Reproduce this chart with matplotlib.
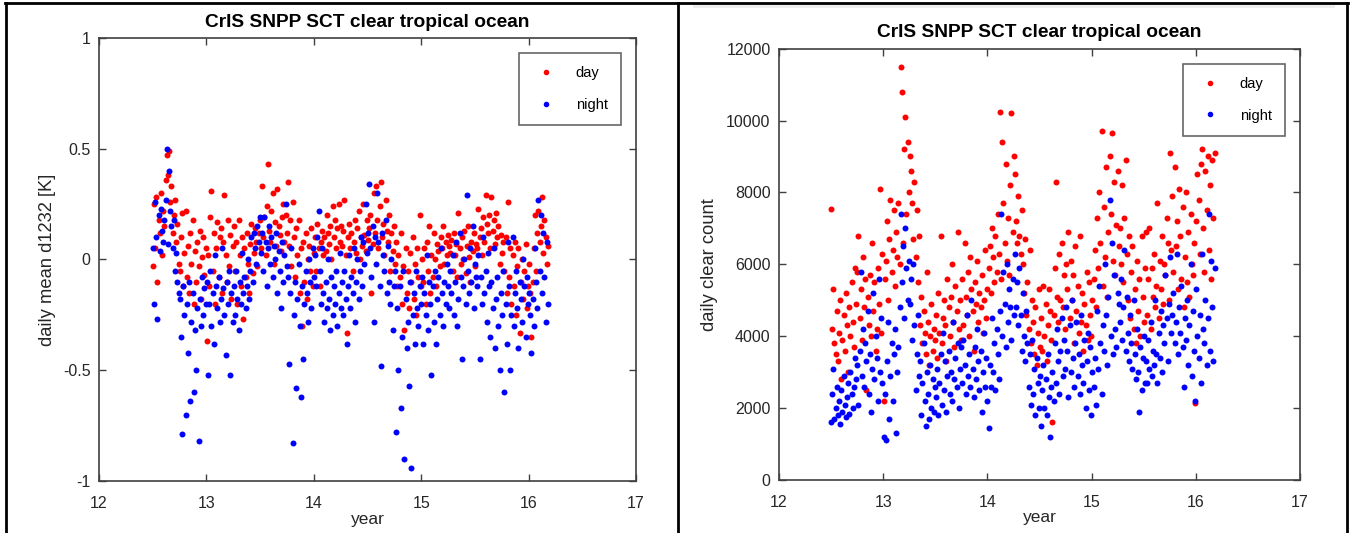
import matplotlib
matplotlib.use('Agg')
import matplotlib.pyplot as plt
import numpy as np

plt.rcParams['font.family'] = ['Liberation Sans', 'DejaVu Sans']
plt.rcParams['axes.unicode_minus'] = False

# one value every 4 days starting mid 2012 (year axis shown as 12..17)
t0 = 12.5
step = 4 / 365.25

# daily mean d1232 [K]
d_day = [
    -0.03, 0.25, 0.05, 0.28, -0.10, 0.18, 0.12, 0.30, 0.02, 0.22, 0.15, 0.36, 0.47, 0.38, 0.49, 0.26, 0.33, 0.12, 0.20, 0.27, 0.08, 0.16, -0.02,
    -0.05, 0.10, 0.21, -0.12, 0.03, 0.22, -0.08, 0.06, -0.15, 0.12, -0.02, 0.18, -0.20, 0.04, -0.10, 0.08, -0.03, 0.13, -0.18, 0.01, 0.10, -0.07, 0.05,
    -0.37, 0.02, -0.12, 0.19, 0.31, -0.05, 0.12, -0.20, 0.05, 0.17, -0.08, 0.10, 0.14, -0.15, 0.08, 0.29, 0.02, -0.10, 0.18, -0.03, 0.11, -0.18, 0.06,
    0.15, -0.05, 0.08, -0.20, 0.18, 0.02, -0.12, 0.10, -0.27, 0.05, -0.08, 0.12, -0.02, -0.15, 0.07, 0.16, -0.06, 0.03, 0.14, 0.08, -0.03, 0.12, 0.18,
    0.05, 0.33, 0.10, 0.19, 0.02, 0.24, 0.43, 0.13, 0.08, 0.22, 0.30, -0.02, 0.17, 0.06, 0.32, 0.15, 0.11, 0.04, 0.19, 0.25, 0.08, 0.20, 0.12,
    0.35, 0.06, 0.18, -0.03, 0.26, 0.10, -0.08, 0.14, 0.02, 0.18, -0.15, 0.05, -0.30, 0.08, -0.10, 0.12, -0.18, 0.00, 0.06, -0.05, 0.14, -0.12, 0.03,
    0.10, -0.05, 0.16, 0.05, -0.12, 0.08, 0.13, 0.02, 0.10, 0.04, 0.20, 0.12, 0.07, 0.15, 0.00, 0.24, 0.10, 0.18, 0.05, 0.14, 0.25, 0.08, 0.15,
    0.06, 0.13, 0.27, 0.02, -0.33, 0.10, 0.16, 0.05, 0.12, -0.05, 0.08, 0.18, 0.03, 0.14, 0.22, 0.00, 0.10, 0.06, 0.25, 0.11, 0.04, 0.18, 0.09,
    0.14, 0.20, -0.15, 0.07, 0.30, 0.12, 0.33, 0.18, 0.05, 0.24, 0.35, 0.10, 0.16, 0.02, 0.27, 0.13, 0.08, 0.20, -0.05, 0.12, 0.04, 0.15, -0.02,
    0.08, -0.12, 0.02, -0.08, 0.12, -0.20, -0.03, -0.32, 0.05, -0.15, -0.05, -0.22, 0.03, -0.10, 0.10, -0.18, -0.02, -0.25, 0.05, -0.08, 0.20, -0.12, 0.00,
    -0.10, 0.05, -0.20, 0.08, -0.05, 0.15, -0.15, 0.02, -0.08, 0.12, 0.00, -0.12, 0.07, 0.04, -0.03, 0.10, 0.05, 0.15, -0.02, 0.08, 0.02, 0.11, 0.06,
    0.03, 0.09, -0.05, 0.12, 0.02, 0.07, -0.08, 0.21, 0.05, -0.02, 0.10, 0.00, 0.13, -0.06, 0.06, 0.15, 0.01, -0.10, 0.08, 0.04, 0.12, -0.03, 0.07,
    0.05, 0.23, 0.10, 0.14, 0.02, 0.19, 0.08, 0.29, 0.16, 0.12, 0.20, 0.05, 0.28, 0.13, 0.18, 0.07, 0.21, 0.10, 0.15, -0.02, 0.11, 0.03, 0.08,
    -0.05, 0.10, -0.15, 0.26, -0.08, 0.05, -0.20, 0.02, -0.12, 0.08, -0.25, -0.03, 0.05, -0.33, -0.10, 0.00, -0.18, -0.05, 0.07, -0.22, -0.12, -0.02, -0.15,
    -0.35, -0.10, 0.05, 0.20, -0.05, 0.12, 0.22, 0.08, 0.15, 0.28, 0.03, 0.18, 0.10, -0.02, 0.06,
]
d_night = [
    0.05, -0.20, 0.26, 0.10, -0.27, 0.20, 0.04, 0.23, 0.13, 0.08, 0.18, 0.27, 0.50, 0.07, 0.40, 0.22, 0.15, 0.05, 0.18, -0.05, 0.03, -0.10, -0.15,
    -0.18, -0.35, -0.79, -0.12, -0.25, -0.70, -0.20, -0.42, -0.10, -0.64, -0.28, -0.15, -0.60, -0.32, -0.50, -0.22, -0.82, -0.18, -0.30, -0.08, -0.25, -0.13, -0.20,
    -0.10, -0.52, -0.20, -0.05, -0.30, -0.15, -0.38, 0.02, -0.12, -0.22, -0.08, -0.28, -0.18, 0.05, -0.13, -0.25, -0.43, -0.10, -0.20, -0.05, -0.52, -0.15, -0.28,
    -0.12, -0.25, -0.05, -0.18, -0.32, -0.10, -0.20, 0.03, -0.15, -0.08, -0.22, -0.12, 0.00, -0.18, -0.05, 0.10, -0.10, 0.12, 0.05, -0.02, 0.15, 0.08, 0.19,
    0.03, 0.12, -0.05, 0.19, 0.08, -0.12, 0.05, 0.15, -0.02, 0.10, -0.08, 0.06, 0.00, 0.12, -0.15, 0.04, -0.05, -0.22, 0.08, -0.10, 0.02, 0.25, -0.03,
    -0.08, -0.47, -0.15, 0.05, -0.83, -0.25, -0.10, -0.58, -0.18, -0.02, -0.30, -0.62, -0.12, -0.45, -0.20, -0.05, -0.15, -0.28, 0.00, -0.10, -0.22, 0.05, -0.08,
    0.02, -0.12, 0.10, 0.22, -0.05, -0.20, 0.05, -0.15, -0.28, -0.10, -0.22, 0.00, -0.18, -0.32, -0.08, -0.25, -0.12, -0.20, -0.05, -0.30, -0.15, 0.03, -0.22,
    -0.10, -0.25, -0.05, -0.18, -0.38, -0.12, 0.02, -0.22, -0.08, -0.15, 0.05, -0.28, -0.10, 0.00, -0.18, -0.05, 0.10, -0.12, 0.08, -0.02, 0.25, 0.03, 0.12,
    0.34, 0.05, -0.08, 0.15, -0.28, 0.10, -0.02, 0.30, 0.08, -0.12, -0.48, 0.12, 0.02, -0.05, 0.18, -0.15, 0.06, -0.10, -0.20, 0.00, -0.32, -0.12, -0.05,
    -0.78, -0.22, -0.50, -0.12, -0.67, -0.35, -0.05, -0.90, -0.18, -0.40, -0.28, -0.57, -0.10, -0.94, -0.25, -0.15, -0.38, -0.05, -0.22, -0.30, -0.12, -0.20, -0.08,
    -0.38, -0.15, -0.25, 0.02, -0.32, -0.10, -0.20, -0.52, -0.12, -0.28, -0.05, -0.38, -0.18, -0.08, -0.25, 0.05, -0.15, -0.30, -0.10, -0.20, -0.02, -0.12, -0.22,
    -0.05, -0.15, 0.02, -0.25, -0.10, 0.08, -0.30, -0.18, 0.12, -0.08, -0.45, -0.12, 0.00, -0.20, 0.29, -0.05, -0.15, 0.05, -0.10, 0.15, -0.22, -0.02, -0.08,
    -0.12, 0.02, -0.45, -0.08, -0.20, 0.10, -0.15, -0.05, -0.28, 0.03, -0.12, -0.35, -0.10, -0.22, 0.05, -0.40, -0.18, -0.08, -0.30, -0.50, -0.15, -0.25, -0.05,
    -0.60, -0.20, -0.38, 0.08, -0.12, -0.50, -0.25, 0.10, -0.30, -0.15, -0.05, -0.22, -0.40, -0.10, -0.18, -0.28, 0.00, -0.12, -0.35, -0.08, -0.20, -0.15, -0.25,
    -0.42, -0.18, -0.30, 0.05, -0.10, -0.22, 0.27, -0.05, 0.20, -0.15, 0.12, -0.08, -0.28, 0.08, -0.20,
]

# daily clear count
c_day = [
    7550, 4200, 5300, 3800, 3500, 4700, 3300, 4100, 5000, 2800, 3900, 4600, 3600, 5200, 4300, 3000, 4800, 4000, 5500, 4400, 3700, 5900, 4900,
    5800, 6800, 4500, 5300, 3900, 6200, 4800, 5600, 2500, 5100, 4300, 5700, 4000, 6600, 4700, 5500, 3600, 4200, 5900, 4900, 8100, 4100, 6300,
    2200, 5600, 6100, 7200, 5000, 6700, 7800, 5800, 6400, 7500, 5400, 6900, 6200, 7700, 6000, 11500, 10800, 6600, 9200, 10100, 7400, 9400, 8000,
    9000, 8600, 7700, 6700, 8300, 6200, 7500, 5500, 6800, 4300, 5100, 3800, 4700, 4100, 3500, 5800, 4400, 3200, 4000, 4900, 3600, 4200, 3900,
    4600, 3400, 5200, 4100, 6800, 3800, 4500, 5000, 4300, 3300, 5600, 4800, 4000, 5100, 6000, 4400, 3700, 5400, 4700, 6900, 4200, 5000, 3900,
    5600, 4300, 6600, 5100, 4600, 5800, 4000, 6200, 5300, 4700, 3600, 5500, 4900, 6100, 4400, 5200, 4800, 5700, 4100, 5000, 6400, 4500, 5300,
    5900, 6500, 5200, 7000, 6200, 5500, 6800, 5800, 7400, 6300, 10250, 5600, 9400, 7700, 6600, 8800, 6100, 7300, 5700, 8200, 10200, 6900, 9000,
    8500, 7200, 6600, 7900, 6800, 6300, 7500, 6000, 5200, 6700, 4600, 5500, 4200, 6400, 3800, 5000, 4400, 3500, 4800, 3200, 4100, 5300, 3700,
    4500, 3600, 5400, 4000, 4900, 3300, 4300, 5300, 4700, 3900, 1600, 4600, 5900, 8300, 5100, 4400, 6300, 5000, 6600, 4800, 5700, 4200, 6000,
    5300, 6900, 4500, 6100, 5000, 5700, 3800, 6500, 4700, 5400, 4100, 6800, 4400, 5200, 3600, 4900, 4300, 5800, 3900, 5500, 4600, 4000, 5000,
    5600, 6400, 4800, 7300, 5900, 8000, 6600, 9700, 5400, 7600, 6200, 8700, 5100, 6900, 9000, 7400, 9650, 6100, 8300, 5700, 7100, 8600, 6500,
    7000, 6000, 8200, 5500, 7300, 8900, 6300, 5000, 6800, 4500, 5800, 6500, 4200, 5300, 3800, 6100, 4700, 5600, 4000, 6800, 5100, 4400, 5900,
    6900, 4600, 5600, 7000, 4200, 5900, 5100, 6300, 4800, 5400, 7700, 4500, 6100, 5300, 6800, 4900, 6000, 5700, 7300, 6600, 5000, 9100, 6400,
    7900, 5800, 8700, 6500, 7200, 5300, 8100, 6800, 5600, 7600, 4800, 6200, 8000, 5500, 6900, 5100, 7400, 6000, 5700, 6600, 2150, 7200, 8500,
    7800, 6300, 8800, 9200, 7000, 5800, 8600, 7500, 9000, 6400, 8200, 5600, 8900, 7300, 9100,
]
c_night = [
    1600, 2400, 3100, 1700, 2000, 2600, 1800, 2200, 1550, 2500, 1900, 2900, 2100, 1750, 2300, 2700, 1850, 3000, 2400, 2000, 2600, 3400, 2800,
    3200, 2100, 3600, 5800, 2900, 4200, 2600, 3800, 3300, 4700, 2400, 3500, 1900, 3100, 5200, 2800, 4000, 3400, 2200, 5600, 3000, 4500, 2700,
    1200, 2400, 1100, 3300, 4400, 1700, 2900, 3800, 2200, 3500, 4200, 1300, 3000, 3700, 4800, 7400, 5500, 6500, 4500, 7000, 5900, 5000, 6100,
    4900, 5600, 3900, 6000, 4300, 2500, 3500, 4600, 2900, 3300, 1800, 2700, 3800, 2200, 1500, 3000, 2400, 1700, 3200, 2000, 2800, 1900, 2600,
    2300, 3100, 1800, 2700, 3500, 2100, 4100, 2500, 3300, 1900, 2900, 3600, 2400, 3000, 2200, 4400, 2800, 3400, 2600, 3800, 2000, 3100, 3700,
    2700, 3900, 3200, 2400, 4600, 2900, 3500, 2600, 5000, 3100, 2300, 3700, 2800, 4200, 3300, 2500, 3600, 1900, 3000, 4100, 2600, 3400, 2200,
    1450, 3200, 2600, 4500, 3000, 3800, 2500, 4200, 3500, 2800, 4700, 7400, 4000, 5800, 4900, 3700, 6000, 4400, 5300, 4800, 3900, 5600, 4600,
    6300, 4800, 5500, 4300, 5900, 4600, 3600, 5200, 4000, 3300, 4700, 3800, 2600, 3500, 2100, 3900, 2400, 3100, 1800, 3400, 2700, 2000, 2900,
    1500, 2500, 3200, 2000, 2800, 1800, 3500, 2300, 1200, 2600, 3000, 2200, 3800, 2700, 4200, 3300, 2400, 3600, 4500, 2900, 3900, 3100, 4800,
    3600, 2300, 4300, 3000, 5000, 3400, 2600, 3800, 4400, 2900, 3500, 2400, 4600, 3200, 2700, 3900, 2000, 3300, 4100, 2500, 3700, 1800, 3000,
    2600, 3400, 2100, 4700, 3100, 5400, 3800, 2400, 4300, 3600, 6000, 4600, 3200, 5100, 7800, 4000, 6600, 3500, 5700, 4200, 3700, 5200, 4900,
    4400, 5600, 3900, 4800, 6400, 3600, 5100, 4100, 3300, 4600, 3800, 3100, 5000, 3500, 2800, 4200, 3000, 1900, 3700, 2500, 3400, 4000, 2700,
    3300, 2700, 3900, 3100, 4400, 2900, 3600, 3200, 5000, 3500, 2700, 4100, 3400, 4700, 3000, 4300, 3800, 5700, 4500, 3300, 4900, 6200, 4100,
    4600, 5200, 3800, 4400, 6300, 3500, 4800, 4100, 5400, 3700, 2600, 4500, 3900, 5000, 3200, 4300, 6000, 2900, 4700, 3600, 2200, 5300, 4000,
    3400, 4600, 2700, 6300, 4200, 3800, 5000, 3200, 4500, 7400, 3600, 6100, 4800, 3300, 5900,
]

xticks = [12, 13, 14, 15, 16, 17]
xticklabels = ['12', '13', '14', '15', '16', '17']
title = 'CrIS SNPP SCT clear tropical ocean'


def years(vals):
    return t0 + step * np.arange(len(vals))


fig = plt.figure(figsize=(13.5, 5.33), dpi=100)


def panel(rect, day, night, ylim, yticks, yticklabels, ylabel, ylab_x):
    ax = fig.add_axes(rect)
    ax.plot(years(day), day, 'o', color='#ff0000', ms=4.3, mew=0, label='day')
    ax.plot(years(night), night, 'o', color='#0000ff', ms=4.3, mew=0, label='night')
    ax.set_xlim(12, 17)
    ax.set_ylim(*ylim)
    ax.set_xticks(xticks)
    ax.set_xticklabels(xticklabels)
    ax.set_yticks(yticks)
    ax.set_yticklabels(yticklabels)
    ax.tick_params(direction='in', top=True, right=True, length=5, width=1,
                   color='#404040', labelcolor='#262626', labelsize=11.5)
    ax.tick_params(axis='x', pad=11)
    ax.tick_params(axis='y', pad=6)
    for s in ax.spines.values():
        s.set_color('#404040')
        s.set_linewidth(1.2)
    ax.set_title(title, fontsize=13.8, fontweight='bold', pad=8)
    ax.set_xlabel('year', fontsize=12.5, color='#262626')
    ax.set_ylabel(ylabel, fontsize=13.2, color='#262626')
    ax.xaxis.set_label_coords(0.5, -0.07)
    ax.yaxis.set_label_coords(ylab_x, 0.5)
    leg = ax.legend(loc='upper right', numpoints=1, fontsize=10.5, frameon=True,
                    fancybox=False, borderpad=0.9, labelspacing=1.2,
                    handlelength=2.0, handletextpad=1.0, borderaxespad=1.05)
    leg.get_frame().set_edgecolor('#404040')
    leg.get_frame().set_linewidth(1.2)
    for h in leg.legend_handles:
        h.set_markersize(4)
    return ax


panel([0.0733, 0.0976, 0.3978, 0.8311], d_day, d_night, (-1, 1),
      [-1, -0.5, 0, 0.5, 1], ['-1', '-0.5', '0', '0.5', '1'],
      'daily mean d1232 [K]', -0.080)
panel([0.577, 0.0994, 0.386, 0.8094], c_day, c_night, (0, 12000),
      [0, 2000, 4000, 6000, 8000, 10000, 12000],
      ['0', '2000', '4000', '6000', '8000', '10000', '12000'],
      'daily clear count', -0.117)

# table frame around the two pictures
fig.add_artist(plt.Rectangle((693 / 1350, 1 - 8 / 533), 642 / 1350, 5 / 533,
                             transform=fig.transFigure, color='#eeeeee', lw=0))
fig.add_artist(plt.Line2D([5 / 1350, 1348 / 1350], [1 - 3 / 533, 1 - 3 / 533],
                          transform=fig.transFigure, color='black', lw=2))
for xp in [6, 678, 1347]:
    fig.add_artist(plt.Line2D([xp / 1350, xp / 1350], [0, 1 - 3 / 533],
                              transform=fig.transFigure, color='black', lw=2))

fig.savefig('out.png', dpi=100)
